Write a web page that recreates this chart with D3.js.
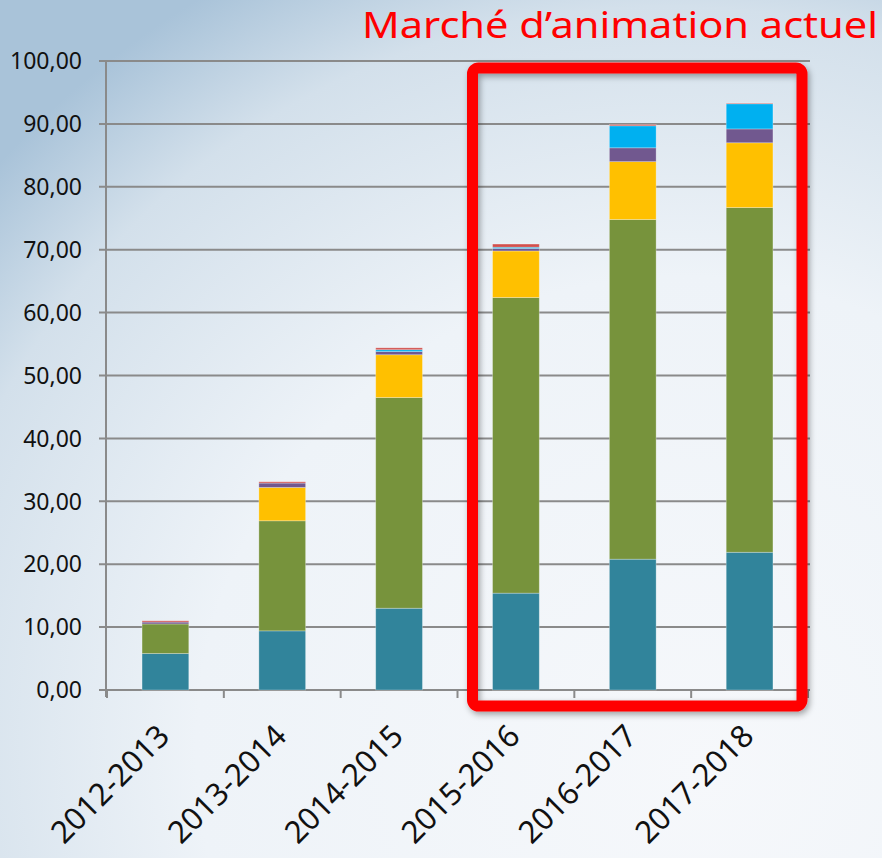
<!DOCTYPE html>
<html><head><meta charset="utf-8">
<script src="https://cdn.jsdelivr.net/npm/d3@7"></script>
<style>html,body{margin:0;padding:0;overflow:hidden;}svg{display:block;}</style>
</head><body>
<script>
const categories = ["2012-2013","2013-2014","2014-2015","2015-2016","2016-2017","2017-2018"];
const seriesTeal   = [5.8, 9.4, 13.0, 15.4, 20.8, 21.9];
const seriesGreen  = [4.7, 17.5, 33.5, 47.0, 54.0, 54.8];
const seriesGold   = [0.0, 5.3, 6.8, 7.4, 9.2, 10.3];
const seriesPurple = [0.3, 0.7, 0.5, 0.4, 2.2, 2.2];
const seriesCyan   = [0.0, 0.0, 0.3, 0.2, 3.5, 4.0];
const seriesRed    = [0.2, 0.2, 0.3, 0.5, 0.2, 0.1];
const yTicks = [0,10,20,30,40,50,60,70,80,90,100];
const title = "Marché d’animation actuel";
const highlightFrom = 3, highlightTo = 5;

const series = [
  {key:"teal", values:seriesTeal, color:"#31849B"},
  {key:"green", values:seriesGreen, color:"#77933C"},
  {key:"gold", values:seriesGold, color:"#FFC000"},
  {key:"purple", values:seriesPurple, color:"#71588F"},
  {key:"cyan", values:seriesCyan, color:"#00B0F0"},
  {key:"red", values:seriesRed, color:"#D2504D"}
];

const W = 882, H = 858;
const svg = d3.select("body").append("svg").attr("width", W).attr("height", H);
const defs = svg.append("defs");
const bg = defs.append("radialGradient").attr("id","bg")
  .attr("cx","0.75").attr("cy","0.85").attr("r","1.0").attr("fx","0.8").attr("fy","0.9");
bg.append("stop").attr("offset","0").attr("stop-color","#f6f8fb");
bg.append("stop").attr("offset","0.55").attr("stop-color","#eef3f8");
bg.append("stop").attr("offset","0.85").attr("stop-color","#d3e0eb");
bg.append("stop").attr("offset","1").attr("stop-color","#a9c3d9");
svg.append("rect").attr("width",W).attr("height",H).attr("fill","url(#bg)");

const sh = defs.append("filter").attr("id","shadow").attr("x","-10%").attr("y","-10%").attr("width","120%").attr("height","120%");
sh.append("feDropShadow").attr("dx",2).attr("dy",3).attr("stdDeviation",3).attr("flood-color","#000").attr("flood-opacity",0.35);

const x = d3.scaleBand().domain(categories).range([107, 808]).paddingInner(0.6).paddingOuter(0.3);
const y = d3.scaleLinear().domain([0,100]).range([690, 61]);
const step = x.step();
const boundary = i => x.range()[0] + i * step;

// gridlines
const g = svg.append("g");
g.selectAll("line.grid").data(yTicks).join("line")
  .attr("x1", 99).attr("x2", boundary(categories.length) + 2)
  .attr("y1", d => y(d)).attr("y2", d => y(d))
  .attr("stroke", "#8a8a8a").attr("stroke-width", 2);
// y axis
g.append("line").attr("x1",106).attr("x2",106).attr("y1",y(100)).attr("y2",y(0)+7)
  .attr("stroke","#8a8a8a").attr("stroke-width",2);
// category ticks
g.selectAll("line.ct").data(d3.range(categories.length+1)).join("line")
  .attr("x1", i => boundary(i)).attr("x2", i => boundary(i))
  .attr("y1", y(0)).attr("y2", y(0)+8)
  .attr("stroke","#8a8a8a").attr("stroke-width",2);

// y labels
g.selectAll("text.yl").data(yTicks).join("text")
  .attr("x", 82).attr("y", d => y(d)).attr("dy","0.36em")
  .attr("text-anchor","end")
  .attr("font-family","'Noto Sans', 'Open Sans', sans-serif").attr("font-size",23).attr("fill","#111")
  .text(d => d3.format(".2f")(d).replace(".", ","));

// stacked bars
const rows = categories.map((c,i) => { const o = {cat:c}; series.forEach(s => o[s.key] = s.values[i]); return o; });
const stack = d3.stack().keys(series.map(s => s.key))(rows);
const barsG = svg.append("g");
stack.forEach((layer, li) => {
  barsG.selectAll(null).data(layer).join("rect")
    .attr("x", d => x(d.data.cat))
    .attr("width", x.bandwidth())
    .attr("y", d => y(d[1]))
    .attr("height", d => Math.max(0, y(d[0]) - y(d[1])))
    .attr("fill", series[li].color)
    .attr("stroke", "rgba(255,255,255,0.35)").attr("stroke-width", 0.8);
});

// x labels
svg.selectAll("text.xl").data(categories).join("text")
  .attr("transform", d => `translate(${x(d) + x.bandwidth()/2 + 6},${738}) rotate(-45)`)
  .attr("text-anchor","end")
  .attr("font-family","'Noto Sans', 'Open Sans', sans-serif").attr("font-size",31).attr("fill","#111")
  .text(d => d);

// highlight rectangle
const rx0 = boundary(highlightFrom) + 15, rx1 = boundary(highlightTo + 1) - 6;
svg.append("rect")
  .attr("x", rx0).attr("y", y(100) + 7)
  .attr("width", rx1 - rx0).attr("height", (y(0) + 16) - (y(100) + 7))
  .attr("rx", 6).attr("ry", 6)
  .attr("fill","none").attr("stroke","#ff0000").attr("stroke-width", 11)
  .attr("filter","url(#shadow)");

// title
svg.append("text").attr("x", 878).attr("y", 38).attr("text-anchor","end")
  .attr("font-family","'Noto Sans', 'Open Sans', sans-serif").attr("font-size", 36)
  .attr("fill","#ff0000")
  .attr("textLength", 516).attr("lengthAdjust","spacingAndGlyphs")
  .text(title);
</script>
</body></html>
